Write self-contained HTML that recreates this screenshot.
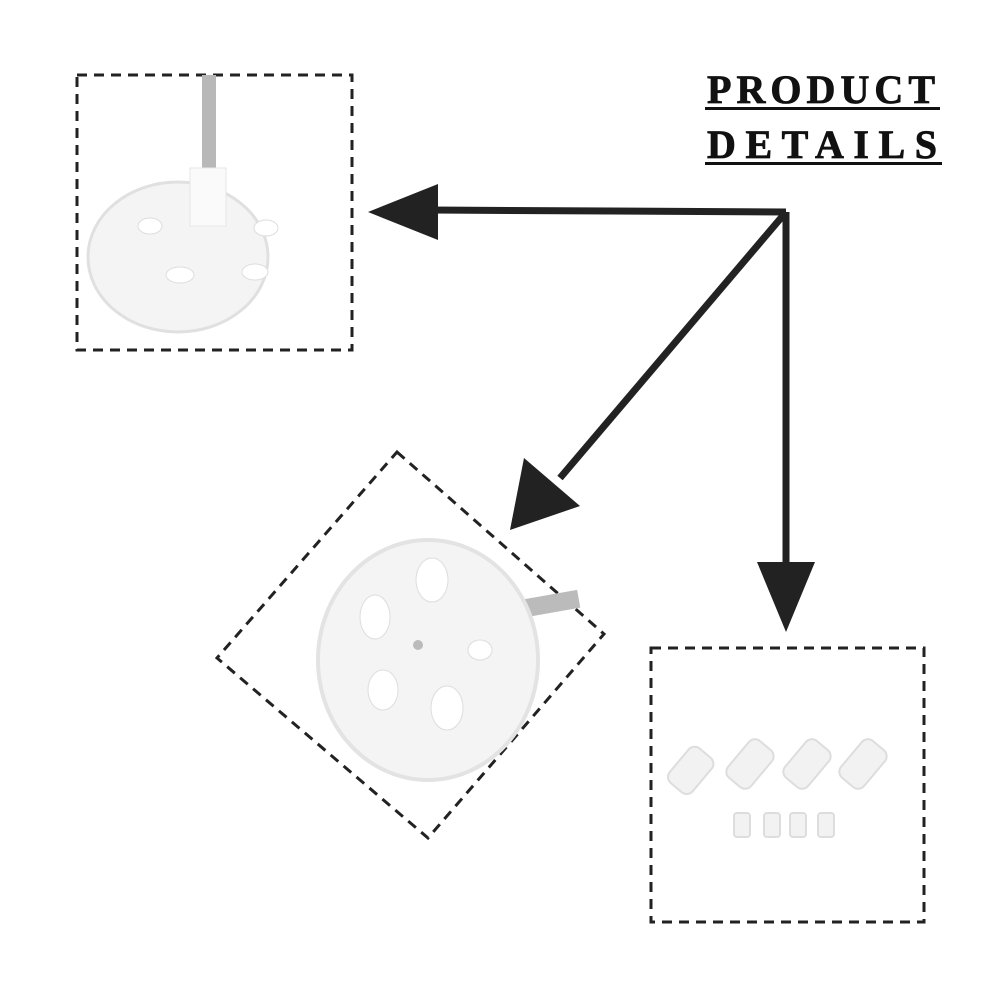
<!DOCTYPE html>
<html><head><style>
body{margin:0;background:#fff;}
svg{display:block}
</style></head><body>
<svg width="1000" height="1000" viewBox="0 0 1000 1000" xmlns="http://www.w3.org/2000/svg">
<rect width="1000" height="1000" fill="#fff"/>
<!-- title -->
<text x="707" y="103" font-family="Liberation Serif, serif" font-weight="bold" font-size="40" fill="#111" textLength="228" lengthAdjust="spacing" stroke="#111" stroke-width="0.8">PRODUCT</text>
<rect x="705" y="107" width="235" height="3" fill="#111"/>
<text x="707" y="158" font-family="Liberation Serif, serif" font-weight="bold" font-size="40" fill="#111" textLength="230" lengthAdjust="spacing" stroke="#111" stroke-width="0.8">DETAILS</text>
<rect x="705" y="162" width="237" height="3" fill="#111"/>
<!-- dashed boxes -->
<g fill="none" stroke="#222" stroke-width="3" stroke-dasharray="10,7">
<rect x="77" y="75" width="275" height="275"/>
<rect x="651" y="648" width="273" height="274"/>
<polygon points="397,452 604,634 428,838 217,658"/>
</g>
<!-- arrows -->
<g stroke="#222" stroke-width="7" fill="none">
<line x1="786" y1="212" x2="430" y2="210"/>
<line x1="786" y1="212" x2="560" y2="478"/>
<line x1="786" y1="212" x2="786" y2="570"/>
</g>
<g fill="#222">
<polygon points="368,212 438,184 438,240"/>
<polygon points="510,530 524,458 580,506"/>
<polygon points="786,632 757,562 815,562"/>
</g>
<!-- gear 1 -->
<rect x="202" y="75" width="14" height="110" fill="#b8b8b8"/>
<ellipse cx="178" cy="257" rx="90" ry="75" fill="#f4f4f4" stroke="#e0e0e0" stroke-width="3"/>
<rect x="190" y="168" width="36" height="58" fill="#fafafa" stroke="#e6e6e6"/>
<g fill="#fff" stroke="#ddd">
<ellipse cx="150" cy="226" rx="12" ry="8"/><ellipse cx="266" cy="228" rx="12" ry="8"/>
<ellipse cx="180" cy="275" rx="14" ry="8"/><ellipse cx="255" cy="272" rx="13" ry="8"/>
</g>
<!-- gear 2 -->
<rect x="520" y="600" width="58" height="18" fill="#bbb" transform="rotate(-10 520 600)"/>
<ellipse cx="428" cy="660" rx="110" ry="120" fill="#f4f4f4" stroke="#e3e3e3" stroke-width="4"/>
<g fill="#fff" stroke="#ddd">
<ellipse cx="432" cy="580" rx="16" ry="22"/><ellipse cx="375" cy="617" rx="15" ry="22"/>
<ellipse cx="383" cy="690" rx="15" ry="20"/><ellipse cx="447" cy="708" rx="16" ry="22"/>
<ellipse cx="480" cy="650" rx="12" ry="10"/>
</g>
<circle cx="418" cy="645" r="5" fill="#bbb"/>
<!-- small parts -->
<g fill="#f2f2f2" stroke="#ddd" stroke-width="2">
<rect x="676" y="748" width="30" height="45" rx="8" transform="rotate(40 691 770)"/>
<rect x="735" y="740" width="30" height="48" rx="8" transform="rotate(40 750 764)"/>
<rect x="792" y="740" width="30" height="48" rx="8" transform="rotate(40 807 764)"/>
<rect x="848" y="740" width="30" height="48" rx="8" transform="rotate(40 863 764)"/>
<rect x="734" y="813" width="16" height="24" rx="3"/>
<rect x="764" y="813" width="16" height="24" rx="3"/>
<rect x="790" y="813" width="16" height="24" rx="3"/>
<rect x="818" y="813" width="16" height="24" rx="3"/>
</g>
</svg>
</body></html>
